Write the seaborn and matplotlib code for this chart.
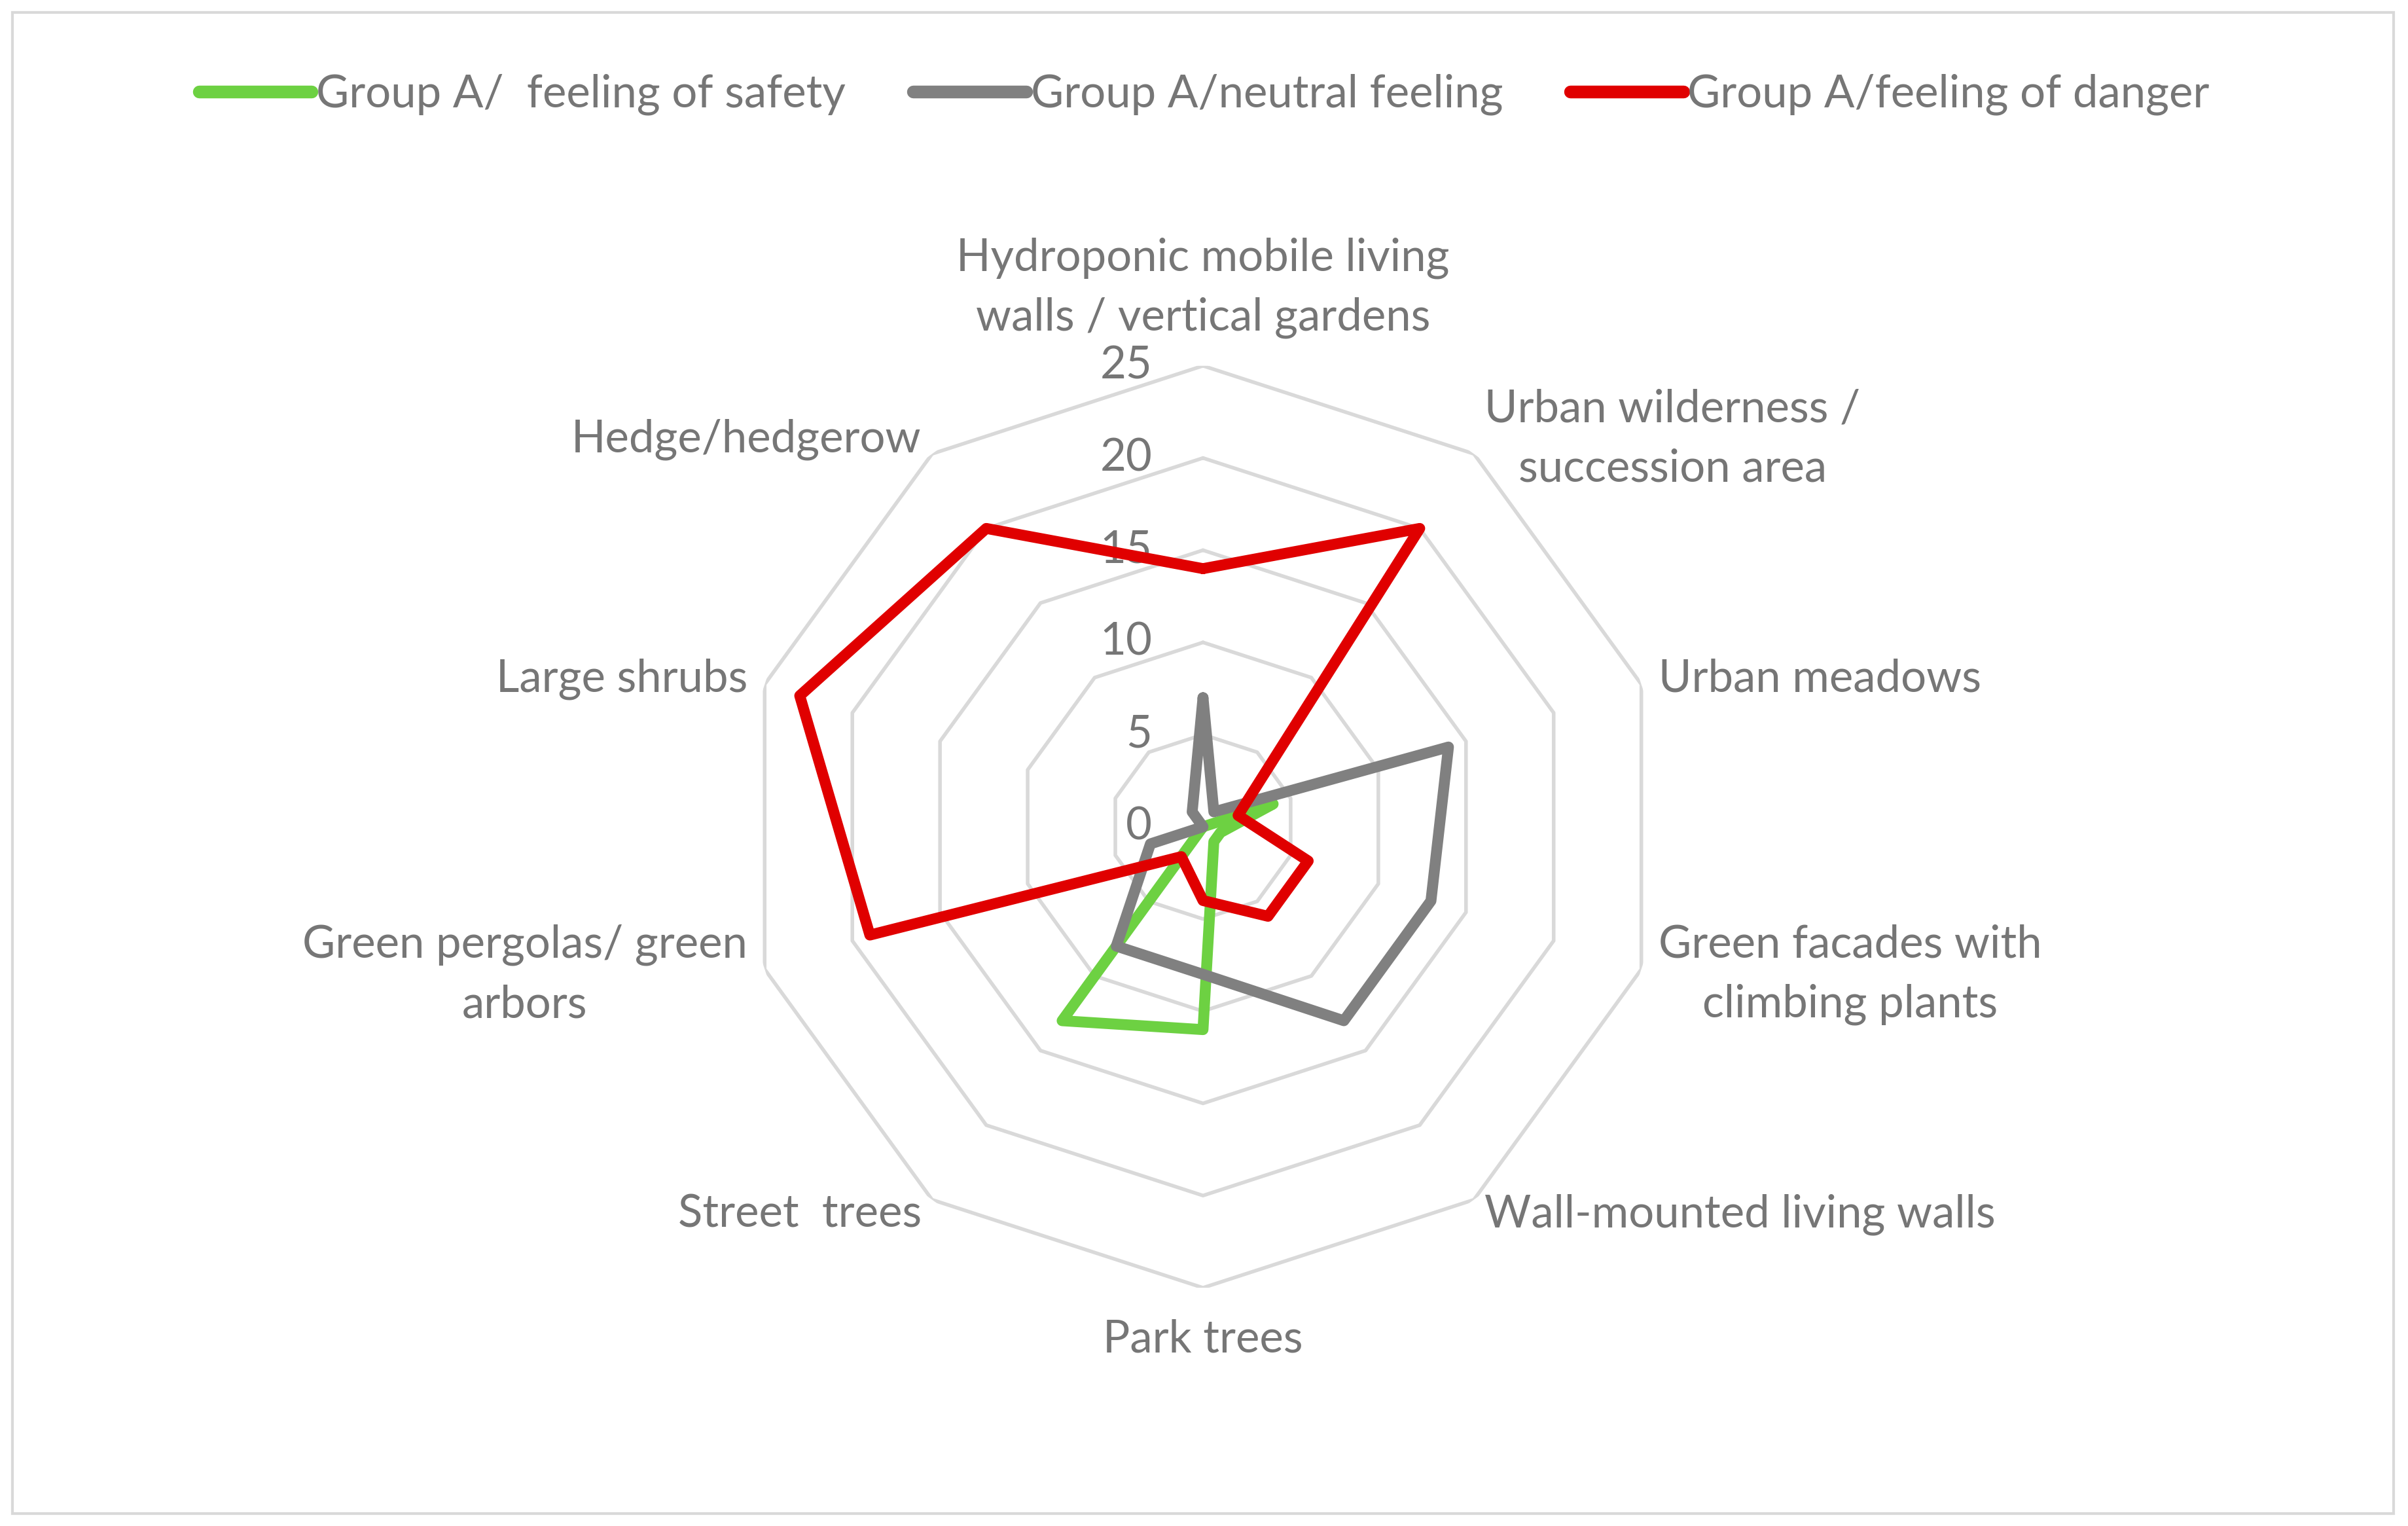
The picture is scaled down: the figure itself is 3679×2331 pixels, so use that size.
import numpy as np
import pandas as pd
import matplotlib
matplotlib.use("Agg")
import matplotlib.pyplot as plt
from matplotlib.lines import Line2D
from matplotlib.patches import Rectangle
import seaborn as sns

categories = [
    "Hydroponic mobile living\nwalls / vertical gardens",
    "Urban wilderness /\nsuccession area",
    "Urban meadows",
    "Green facades with\nclimbing plants",
    "Wall-mounted living walls",
    "Park trees",
    "Street  trees",
    "Green pergolas/ green\narbors",
    "Large shrubs",
    "Hedge/hedgerow",
]
safety = [0, 0, 4, 1, 1, 11, 13, 0, 0, 0]
neutral = [7, 1, 14, 13, 13, 8, 8, 3, 0, 1]
danger = [14, 20, 2, 6, 6, 4, 2, 19, 23, 20]
series_names = ["Group A/  feeling of safety", "Group A/neutral feeling", "Group A/feeling of danger"]
colors = ["#6dd142", "#808080", "#e00000"]
ticks = [0, 5, 10, 15, 20, 25]

sns.set_theme(style="white")
plt.rcParams["font.family"] = ["Lato", "DejaVu Sans"]
text_color = "#767676"
fs = 24.8

n = len(categories)
angles = np.arange(n) * 2 * np.pi / n
theta = np.append(angles, 2 * np.pi)

rows = []
for name, vals in zip(series_names, [safety, neutral, danger]):
    v = list(vals) + [vals[0]]
    for i, (t, r) in enumerate(zip(theta, v)):
        rows.append({"series": name, "order": i, "theta": t, "value": r})
df = pd.DataFrame(rows)

fig = plt.figure(figsize=(18.4, 11.655), dpi=200)
ax = fig.add_axes([0.3081, 0.1561, 0.3827, 0.6042], projection="polar")
ax.set_theta_offset(np.pi / 2)
ax.set_theta_direction(-1)
ax.set_ylim(0, 25)
ax.grid(False)
ax.spines["polar"].set_visible(False)
ax.set_xticks([])
ax.set_yticks([])
ax.set_facecolor("none")

# decagon grid
for r in ticks[1:]:
    ax.plot(theta, [r] * len(theta), color="#d9d9d9", lw=2.0, zorder=1,
            solid_joinstyle="miter")

for name, col in zip(series_names, colors):
    sub = df[df["series"] == name]
    sns.lineplot(data=sub, x="theta", y="value", sort=False, color=col, lw=6,
                 ax=ax, legend=False, zorder=3)
for line in ax.lines:
    line.set_solid_joinstyle("round")
    line.set_solid_capstyle("round")
ax.set_xlabel("")
ax.set_ylabel("")

# radial tick labels
for r in ticks:
    ax.annotate(str(r), xy=(0, r), xytext=(-28, 0), textcoords="offset points",
                ha="right", va="center", fontsize=fs, color=text_color, zorder=2)

# category labels
align = [("center", "bottom"), ("left", "center"), ("left", "center"),
         ("left", "center"), ("left", "center"), ("center", "top"),
         ("right", "center"), ("right", "center"), ("right", "center"),
         ("right", "center")]
for a, lab, (ha, va) in zip(angles, categories, align):
    dx = 10 * np.sin(a)
    dy = 10 * np.cos(a)
    if np.isclose(a, 0):
        dy = 15
    if np.isclose(a, np.pi):
        dy = -17
    ax.annotate(lab, xy=(a, 25), xytext=(dx, dy), textcoords="offset points",
                ha=ha, va=va, multialignment="center", fontsize=fs,
                color=text_color, linespacing=1.55)

handles = [Line2D([0], [0], color=c, lw=7, solid_capstyle="round") for c in colors]
fig.legend(handles, series_names, loc="center", bbox_to_anchor=(0.5, 0.938),
           ncol=3, frameon=False, fontsize=fs, handlelength=2.5,
           handletextpad=0.1, columnspacing=1.5, labelcolor=text_color)

fig.patches.append(Rectangle((8 / 1568, 1 - 985 / 993), 1550 / 1568, 977 / 993,
                             transform=fig.transFigure, fill=False,
                             ec="#d9d9d9", lw=1.5))

fig.savefig("out.png", dpi=200, facecolor="white")
